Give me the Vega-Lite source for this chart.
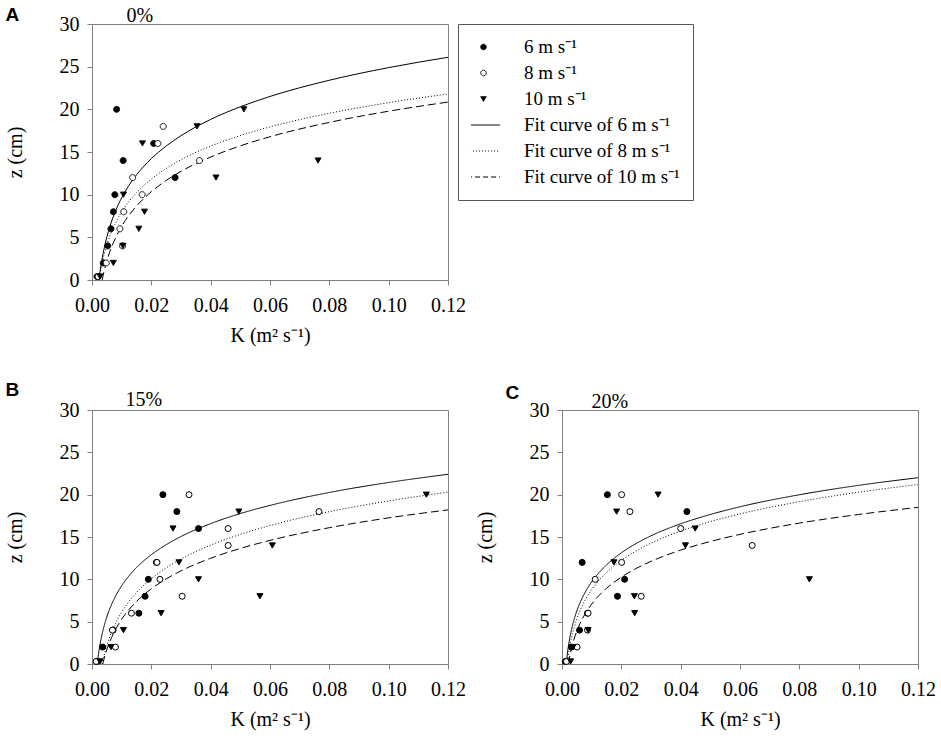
{
  "$schema": "https://vega.github.io/schema/vega-lite/v6.json",
  "padding": {"left": 4, "top": 4, "right": 5, "bottom": 5},
  "background": "white",
  "config": {
    "view": {"stroke": "#808080", "strokeWidth": 1},
    "axis": {
      "grid": false,
      "domainColor": "#808080",
      "tickColor": "#808080",
      "tickSize": 5,
      "labelFont": "Liberation Serif",
      "labelFontSize": 20,
      "labelColor": "black",
      "titleFont": "Liberation Serif",
      "titleFontSize": 20,
      "titleFontWeight": "normal",
      "titleColor": "black"
    }
  },
  "datasets": {
    "pts": [
      {"panel": "A", "speed": "6 m s⁻¹", "K": 0.0083, "z": 20},
      {"panel": "A", "speed": "6 m s⁻¹", "K": 0.0105, "z": 14},
      {"panel": "A", "speed": "6 m s⁻¹", "K": 0.0208, "z": 16},
      {"panel": "A", "speed": "6 m s⁻¹", "K": 0.028, "z": 12},
      {"panel": "A", "speed": "6 m s⁻¹", "K": 0.0077, "z": 10},
      {"panel": "A", "speed": "6 m s⁻¹", "K": 0.0072, "z": 8},
      {"panel": "A", "speed": "6 m s⁻¹", "K": 0.0064, "z": 6},
      {"panel": "A", "speed": "6 m s⁻¹", "K": 0.0053, "z": 4},
      {"panel": "A", "speed": "6 m s⁻¹", "K": 0.0038, "z": 2},
      {"panel": "A", "speed": "6 m s⁻¹", "K": 0.0017, "z": 0.4},
      {"panel": "A", "speed": "8 m s⁻¹", "K": 0.024, "z": 18},
      {"panel": "A", "speed": "8 m s⁻¹", "K": 0.0222, "z": 16},
      {"panel": "A", "speed": "8 m s⁻¹", "K": 0.0362, "z": 14},
      {"panel": "A", "speed": "8 m s⁻¹", "K": 0.0137, "z": 12},
      {"panel": "A", "speed": "8 m s⁻¹", "K": 0.0169, "z": 10},
      {"panel": "A", "speed": "8 m s⁻¹", "K": 0.0107, "z": 8},
      {"panel": "A", "speed": "8 m s⁻¹", "K": 0.0094, "z": 6},
      {"panel": "A", "speed": "8 m s⁻¹", "K": 0.0103, "z": 4},
      {"panel": "A", "speed": "8 m s⁻¹", "K": 0.0048, "z": 2},
      {"panel": "A", "speed": "8 m s⁻¹", "K": 0.0021, "z": 0.4},
      {"panel": "A", "speed": "10 m s⁻¹", "K": 0.0512, "z": 20},
      {"panel": "A", "speed": "10 m s⁻¹", "K": 0.0354, "z": 18},
      {"panel": "A", "speed": "10 m s⁻¹", "K": 0.017, "z": 16},
      {"panel": "A", "speed": "10 m s⁻¹", "K": 0.0762, "z": 14},
      {"panel": "A", "speed": "10 m s⁻¹", "K": 0.0418, "z": 12},
      {"panel": "A", "speed": "10 m s⁻¹", "K": 0.0106, "z": 10},
      {"panel": "A", "speed": "10 m s⁻¹", "K": 0.0177, "z": 8},
      {"panel": "A", "speed": "10 m s⁻¹", "K": 0.0158, "z": 6},
      {"panel": "A", "speed": "10 m s⁻¹", "K": 0.0104, "z": 4},
      {"panel": "A", "speed": "10 m s⁻¹", "K": 0.0072, "z": 2},
      {"panel": "A", "speed": "10 m s⁻¹", "K": 0.0027, "z": 0.4},
      {"panel": "B", "speed": "6 m s⁻¹", "K": 0.0239, "z": 20},
      {"panel": "B", "speed": "6 m s⁻¹", "K": 0.0286, "z": 18},
      {"panel": "B", "speed": "6 m s⁻¹", "K": 0.0359, "z": 16},
      {"panel": "B", "speed": "6 m s⁻¹", "K": 0.0217, "z": 12},
      {"panel": "B", "speed": "6 m s⁻¹", "K": 0.019, "z": 10},
      {"panel": "B", "speed": "6 m s⁻¹", "K": 0.0179, "z": 8},
      {"panel": "B", "speed": "6 m s⁻¹", "K": 0.0158, "z": 6},
      {"panel": "B", "speed": "6 m s⁻¹", "K": 0.0071, "z": 4},
      {"panel": "B", "speed": "6 m s⁻¹", "K": 0.0036, "z": 2},
      {"panel": "B", "speed": "6 m s⁻¹", "K": 0.0016, "z": 0.3},
      {"panel": "B", "speed": "8 m s⁻¹", "K": 0.0327, "z": 20},
      {"panel": "B", "speed": "8 m s⁻¹", "K": 0.0765, "z": 18},
      {"panel": "B", "speed": "8 m s⁻¹", "K": 0.0459, "z": 16},
      {"panel": "B", "speed": "8 m s⁻¹", "K": 0.0459, "z": 14},
      {"panel": "B", "speed": "8 m s⁻¹", "K": 0.0219, "z": 12},
      {"panel": "B", "speed": "8 m s⁻¹", "K": 0.0229, "z": 10},
      {"panel": "B", "speed": "8 m s⁻¹", "K": 0.0304, "z": 8},
      {"panel": "B", "speed": "8 m s⁻¹", "K": 0.0133, "z": 6},
      {"panel": "B", "speed": "8 m s⁻¹", "K": 0.0069, "z": 4},
      {"panel": "B", "speed": "8 m s⁻¹", "K": 0.0079, "z": 2},
      {"panel": "B", "speed": "8 m s⁻¹", "K": 0.0014, "z": 0.3},
      {"panel": "B", "speed": "10 m s⁻¹", "K": 0.1127, "z": 20},
      {"panel": "B", "speed": "10 m s⁻¹", "K": 0.0495, "z": 18},
      {"panel": "B", "speed": "10 m s⁻¹", "K": 0.0273, "z": 16},
      {"panel": "B", "speed": "10 m s⁻¹", "K": 0.0608, "z": 14},
      {"panel": "B", "speed": "10 m s⁻¹", "K": 0.0293, "z": 12},
      {"panel": "B", "speed": "10 m s⁻¹", "K": 0.0359, "z": 10},
      {"panel": "B", "speed": "10 m s⁻¹", "K": 0.0566, "z": 8},
      {"panel": "B", "speed": "10 m s⁻¹", "K": 0.0233, "z": 6},
      {"panel": "B", "speed": "10 m s⁻¹", "K": 0.0106, "z": 4},
      {"panel": "B", "speed": "10 m s⁻¹", "K": 0.0064, "z": 2},
      {"panel": "B", "speed": "10 m s⁻¹", "K": 0.0027, "z": 0.3},
      {"panel": "C", "speed": "6 m s⁻¹", "K": 0.0153, "z": 20},
      {"panel": "C", "speed": "6 m s⁻¹", "K": 0.0421, "z": 18},
      {"panel": "C", "speed": "6 m s⁻¹", "K": 0.0068, "z": 12},
      {"panel": "C", "speed": "6 m s⁻¹", "K": 0.0211, "z": 10},
      {"panel": "C", "speed": "6 m s⁻¹", "K": 0.0187, "z": 8},
      {"panel": "C", "speed": "6 m s⁻¹", "K": 0.0086, "z": 6},
      {"panel": "C", "speed": "6 m s⁻¹", "K": 0.0059, "z": 4},
      {"panel": "C", "speed": "6 m s⁻¹", "K": 0.0032, "z": 2},
      {"panel": "C", "speed": "6 m s⁻¹", "K": 0.0011, "z": 0.3},
      {"panel": "C", "speed": "8 m s⁻¹", "K": 0.0201, "z": 20},
      {"panel": "C", "speed": "8 m s⁻¹", "K": 0.0229, "z": 18},
      {"panel": "C", "speed": "8 m s⁻¹", "K": 0.04, "z": 16},
      {"panel": "C", "speed": "8 m s⁻¹", "K": 0.0641, "z": 14},
      {"panel": "C", "speed": "8 m s⁻¹", "K": 0.0201, "z": 12},
      {"panel": "C", "speed": "8 m s⁻¹", "K": 0.0112, "z": 10},
      {"panel": "C", "speed": "8 m s⁻¹", "K": 0.0267, "z": 8},
      {"panel": "C", "speed": "8 m s⁻¹", "K": 0.0088, "z": 6},
      {"panel": "C", "speed": "8 m s⁻¹", "K": 0.0086, "z": 4},
      {"panel": "C", "speed": "8 m s⁻¹", "K": 0.0051, "z": 2},
      {"panel": "C", "speed": "8 m s⁻¹", "K": 0.0015, "z": 0.3},
      {"panel": "C", "speed": "10 m s⁻¹", "K": 0.0324, "z": 20},
      {"panel": "C", "speed": "10 m s⁻¹", "K": 0.0184, "z": 18},
      {"panel": "C", "speed": "10 m s⁻¹", "K": 0.0449, "z": 16},
      {"panel": "C", "speed": "10 m s⁻¹", "K": 0.0416, "z": 14},
      {"panel": "C", "speed": "10 m s⁻¹", "K": 0.0175, "z": 12},
      {"panel": "C", "speed": "10 m s⁻¹", "K": 0.0834, "z": 10},
      {"panel": "C", "speed": "10 m s⁻¹", "K": 0.0244, "z": 8},
      {"panel": "C", "speed": "10 m s⁻¹", "K": 0.0245, "z": 6},
      {"panel": "C", "speed": "10 m s⁻¹", "K": 0.0088, "z": 4},
      {"panel": "C", "speed": "10 m s⁻¹", "K": 0.0037, "z": 2},
      {"panel": "C", "speed": "10 m s⁻¹", "K": 0.0029, "z": 0.3}
    ],
    "fit": [
      {"panel": "A", "curve": "Fit curve of 6 m s⁻¹", "K": 0.00234, "z": 0},
      {"panel": "A", "curve": "Fit curve of 6 m s⁻¹", "K": 0.0025, "z": 0.44},
      {"panel": "A", "curve": "Fit curve of 6 m s⁻¹", "K": 0.003, "z": 1.65},
      {"panel": "A", "curve": "Fit curve of 6 m s⁻¹", "K": 0.004, "z": 3.55},
      {"panel": "A", "curve": "Fit curve of 6 m s⁻¹", "K": 0.005, "z": 5.03},
      {"panel": "A", "curve": "Fit curve of 6 m s⁻¹", "K": 0.006, "z": 6.24},
      {"panel": "A", "curve": "Fit curve of 6 m s⁻¹", "K": 0.008, "z": 8.15},
      {"panel": "A", "curve": "Fit curve of 6 m s⁻¹", "K": 0.01, "z": 9.63},
      {"panel": "A", "curve": "Fit curve of 6 m s⁻¹", "K": 0.0125, "z": 11.11},
      {"panel": "A", "curve": "Fit curve of 6 m s⁻¹", "K": 0.015, "z": 12.32},
      {"panel": "A", "curve": "Fit curve of 6 m s⁻¹", "K": 0.02, "z": 14.22},
      {"panel": "A", "curve": "Fit curve of 6 m s⁻¹", "K": 0.025, "z": 15.7},
      {"panel": "A", "curve": "Fit curve of 6 m s⁻¹", "K": 0.03, "z": 16.91},
      {"panel": "A", "curve": "Fit curve of 6 m s⁻¹", "K": 0.04, "z": 18.82},
      {"panel": "A", "curve": "Fit curve of 6 m s⁻¹", "K": 0.05, "z": 20.3},
      {"panel": "A", "curve": "Fit curve of 6 m s⁻¹", "K": 0.06, "z": 21.51},
      {"panel": "A", "curve": "Fit curve of 6 m s⁻¹", "K": 0.08, "z": 23.41},
      {"panel": "A", "curve": "Fit curve of 6 m s⁻¹", "K": 0.1, "z": 24.89},
      {"panel": "A", "curve": "Fit curve of 6 m s⁻¹", "K": 0.12, "z": 26.1},
      {"panel": "A", "curve": "Fit curve of 8 m s⁻¹", "K": 0.00238, "z": 0},
      {"panel": "A", "curve": "Fit curve of 8 m s⁻¹", "K": 0.0025, "z": 0.27},
      {"panel": "A", "curve": "Fit curve of 8 m s⁻¹", "K": 0.003, "z": 1.29},
      {"panel": "A", "curve": "Fit curve of 8 m s⁻¹", "K": 0.004, "z": 2.88},
      {"panel": "A", "curve": "Fit curve of 8 m s⁻¹", "K": 0.005, "z": 4.13},
      {"panel": "A", "curve": "Fit curve of 8 m s⁻¹", "K": 0.006, "z": 5.14},
      {"panel": "A", "curve": "Fit curve of 8 m s⁻¹", "K": 0.008, "z": 6.74},
      {"panel": "A", "curve": "Fit curve of 8 m s⁻¹", "K": 0.01, "z": 7.98},
      {"panel": "A", "curve": "Fit curve of 8 m s⁻¹", "K": 0.0125, "z": 9.22},
      {"panel": "A", "curve": "Fit curve of 8 m s⁻¹", "K": 0.015, "z": 10.23},
      {"panel": "A", "curve": "Fit curve of 8 m s⁻¹", "K": 0.02, "z": 11.83},
      {"panel": "A", "curve": "Fit curve of 8 m s⁻¹", "K": 0.025, "z": 13.07},
      {"panel": "A", "curve": "Fit curve of 8 m s⁻¹", "K": 0.03, "z": 14.09},
      {"panel": "A", "curve": "Fit curve of 8 m s⁻¹", "K": 0.04, "z": 15.69},
      {"panel": "A", "curve": "Fit curve of 8 m s⁻¹", "K": 0.05, "z": 16.93},
      {"panel": "A", "curve": "Fit curve of 8 m s⁻¹", "K": 0.06, "z": 17.94},
      {"panel": "A", "curve": "Fit curve of 8 m s⁻¹", "K": 0.08, "z": 19.54},
      {"panel": "A", "curve": "Fit curve of 8 m s⁻¹", "K": 0.1, "z": 20.78},
      {"panel": "A", "curve": "Fit curve of 8 m s⁻¹", "K": 0.12, "z": 21.8},
      {"panel": "A", "curve": "Fit curve of 10 m s⁻¹", "K": 0.00342, "z": 0},
      {"panel": "A", "curve": "Fit curve of 10 m s⁻¹", "K": 0.004, "z": 0.92},
      {"panel": "A", "curve": "Fit curve of 10 m s⁻¹", "K": 0.005, "z": 2.23},
      {"panel": "A", "curve": "Fit curve of 10 m s⁻¹", "K": 0.006, "z": 3.3},
      {"panel": "A", "curve": "Fit curve of 10 m s⁻¹", "K": 0.008, "z": 4.98},
      {"panel": "A", "curve": "Fit curve of 10 m s⁻¹", "K": 0.01, "z": 6.29},
      {"panel": "A", "curve": "Fit curve of 10 m s⁻¹", "K": 0.0125, "z": 7.6},
      {"panel": "A", "curve": "Fit curve of 10 m s⁻¹", "K": 0.015, "z": 8.66},
      {"panel": "A", "curve": "Fit curve of 10 m s⁻¹", "K": 0.02, "z": 10.35},
      {"panel": "A", "curve": "Fit curve of 10 m s⁻¹", "K": 0.025, "z": 11.66},
      {"panel": "A", "curve": "Fit curve of 10 m s⁻¹", "K": 0.03, "z": 12.73},
      {"panel": "A", "curve": "Fit curve of 10 m s⁻¹", "K": 0.04, "z": 14.41},
      {"panel": "A", "curve": "Fit curve of 10 m s⁻¹", "K": 0.05, "z": 15.72},
      {"panel": "A", "curve": "Fit curve of 10 m s⁻¹", "K": 0.06, "z": 16.79},
      {"panel": "A", "curve": "Fit curve of 10 m s⁻¹", "K": 0.08, "z": 18.47},
      {"panel": "A", "curve": "Fit curve of 10 m s⁻¹", "K": 0.1, "z": 19.78},
      {"panel": "A", "curve": "Fit curve of 10 m s⁻¹", "K": 0.12, "z": 20.85},
      {"panel": "B", "curve": "Fit curve of 6 m s⁻¹", "K": 0.00175, "z": 0},
      {"panel": "B", "curve": "Fit curve of 6 m s⁻¹", "K": 0.002, "z": 0.71},
      {"panel": "B", "curve": "Fit curve of 6 m s⁻¹", "K": 0.0025, "z": 1.89},
      {"panel": "B", "curve": "Fit curve of 6 m s⁻¹", "K": 0.003, "z": 2.86},
      {"panel": "B", "curve": "Fit curve of 6 m s⁻¹", "K": 0.004, "z": 4.38},
      {"panel": "B", "curve": "Fit curve of 6 m s⁻¹", "K": 0.005, "z": 5.56},
      {"panel": "B", "curve": "Fit curve of 6 m s⁻¹", "K": 0.006, "z": 6.53},
      {"panel": "B", "curve": "Fit curve of 6 m s⁻¹", "K": 0.008, "z": 8.05},
      {"panel": "B", "curve": "Fit curve of 6 m s⁻¹", "K": 0.01, "z": 9.24},
      {"panel": "B", "curve": "Fit curve of 6 m s⁻¹", "K": 0.0125, "z": 10.42},
      {"panel": "B", "curve": "Fit curve of 6 m s⁻¹", "K": 0.015, "z": 11.39},
      {"panel": "B", "curve": "Fit curve of 6 m s⁻¹", "K": 0.02, "z": 12.91},
      {"panel": "B", "curve": "Fit curve of 6 m s⁻¹", "K": 0.025, "z": 14.09},
      {"panel": "B", "curve": "Fit curve of 6 m s⁻¹", "K": 0.03, "z": 15.06},
      {"panel": "B", "curve": "Fit curve of 6 m s⁻¹", "K": 0.04, "z": 16.58},
      {"panel": "B", "curve": "Fit curve of 6 m s⁻¹", "K": 0.05, "z": 17.77},
      {"panel": "B", "curve": "Fit curve of 6 m s⁻¹", "K": 0.06, "z": 18.73},
      {"panel": "B", "curve": "Fit curve of 6 m s⁻¹", "K": 0.08, "z": 20.26},
      {"panel": "B", "curve": "Fit curve of 6 m s⁻¹", "K": 0.1, "z": 21.44},
      {"panel": "B", "curve": "Fit curve of 6 m s⁻¹", "K": 0.12, "z": 22.41},
      {"panel": "B", "curve": "Fit curve of 8 m s⁻¹", "K": 0.00341, "z": 0},
      {"panel": "B", "curve": "Fit curve of 8 m s⁻¹", "K": 0.004, "z": 0.91},
      {"panel": "B", "curve": "Fit curve of 8 m s⁻¹", "K": 0.005, "z": 2.18},
      {"panel": "B", "curve": "Fit curve of 8 m s⁻¹", "K": 0.006, "z": 3.22},
      {"panel": "B", "curve": "Fit curve of 8 m s⁻¹", "K": 0.008, "z": 4.86},
      {"panel": "B", "curve": "Fit curve of 8 m s⁻¹", "K": 0.01, "z": 6.13},
      {"panel": "B", "curve": "Fit curve of 8 m s⁻¹", "K": 0.0125, "z": 7.41},
      {"panel": "B", "curve": "Fit curve of 8 m s⁻¹", "K": 0.015, "z": 8.44},
      {"panel": "B", "curve": "Fit curve of 8 m s⁻¹", "K": 0.02, "z": 10.08},
      {"panel": "B", "curve": "Fit curve of 8 m s⁻¹", "K": 0.025, "z": 11.36},
      {"panel": "B", "curve": "Fit curve of 8 m s⁻¹", "K": 0.03, "z": 12.4},
      {"panel": "B", "curve": "Fit curve of 8 m s⁻¹", "K": 0.04, "z": 14.04},
      {"panel": "B", "curve": "Fit curve of 8 m s⁻¹", "K": 0.05, "z": 15.31},
      {"panel": "B", "curve": "Fit curve of 8 m s⁻¹", "K": 0.06, "z": 16.35},
      {"panel": "B", "curve": "Fit curve of 8 m s⁻¹", "K": 0.08, "z": 17.99},
      {"panel": "B", "curve": "Fit curve of 8 m s⁻¹", "K": 0.1, "z": 19.26},
      {"panel": "B", "curve": "Fit curve of 8 m s⁻¹", "K": 0.12, "z": 20.3},
      {"panel": "B", "curve": "Fit curve of 10 m s⁻¹", "K": 0.00362, "z": 0},
      {"panel": "B", "curve": "Fit curve of 10 m s⁻¹", "K": 0.004, "z": 0.52},
      {"panel": "B", "curve": "Fit curve of 10 m s⁻¹", "K": 0.005, "z": 1.68},
      {"panel": "B", "curve": "Fit curve of 10 m s⁻¹", "K": 0.006, "z": 2.63},
      {"panel": "B", "curve": "Fit curve of 10 m s⁻¹", "K": 0.008, "z": 4.12},
      {"panel": "B", "curve": "Fit curve of 10 m s⁻¹", "K": 0.01, "z": 5.28},
      {"panel": "B", "curve": "Fit curve of 10 m s⁻¹", "K": 0.0125, "z": 6.44},
      {"panel": "B", "curve": "Fit curve of 10 m s⁻¹", "K": 0.015, "z": 7.39},
      {"panel": "B", "curve": "Fit curve of 10 m s⁻¹", "K": 0.02, "z": 8.89},
      {"panel": "B", "curve": "Fit curve of 10 m s⁻¹", "K": 0.025, "z": 10.05},
      {"panel": "B", "curve": "Fit curve of 10 m s⁻¹", "K": 0.03, "z": 11.0},
      {"panel": "B", "curve": "Fit curve of 10 m s⁻¹", "K": 0.04, "z": 12.49},
      {"panel": "B", "curve": "Fit curve of 10 m s⁻¹", "K": 0.05, "z": 13.65},
      {"panel": "B", "curve": "Fit curve of 10 m s⁻¹", "K": 0.06, "z": 14.6},
      {"panel": "B", "curve": "Fit curve of 10 m s⁻¹", "K": 0.08, "z": 16.1},
      {"panel": "B", "curve": "Fit curve of 10 m s⁻¹", "K": 0.1, "z": 17.26},
      {"panel": "B", "curve": "Fit curve of 10 m s⁻¹", "K": 0.12, "z": 18.2},
      {"panel": "C", "curve": "Fit curve of 6 m s⁻¹", "K": 0.00141, "z": 0},
      {"panel": "C", "curve": "Fit curve of 6 m s⁻¹", "K": 0.002, "z": 1.73},
      {"panel": "C", "curve": "Fit curve of 6 m s⁻¹", "K": 0.0025, "z": 2.84},
      {"panel": "C", "curve": "Fit curve of 6 m s⁻¹", "K": 0.003, "z": 3.74},
      {"panel": "C", "curve": "Fit curve of 6 m s⁻¹", "K": 0.004, "z": 5.16},
      {"panel": "C", "curve": "Fit curve of 6 m s⁻¹", "K": 0.005, "z": 6.27},
      {"panel": "C", "curve": "Fit curve of 6 m s⁻¹", "K": 0.006, "z": 7.17},
      {"panel": "C", "curve": "Fit curve of 6 m s⁻¹", "K": 0.008, "z": 8.59},
      {"panel": "C", "curve": "Fit curve of 6 m s⁻¹", "K": 0.01, "z": 9.7},
      {"panel": "C", "curve": "Fit curve of 6 m s⁻¹", "K": 0.0125, "z": 10.8},
      {"panel": "C", "curve": "Fit curve of 6 m s⁻¹", "K": 0.015, "z": 11.7},
      {"panel": "C", "curve": "Fit curve of 6 m s⁻¹", "K": 0.02, "z": 13.13},
      {"panel": "C", "curve": "Fit curve of 6 m s⁻¹", "K": 0.025, "z": 14.23},
      {"panel": "C", "curve": "Fit curve of 6 m s⁻¹", "K": 0.03, "z": 15.14},
      {"panel": "C", "curve": "Fit curve of 6 m s⁻¹", "K": 0.04, "z": 16.56},
      {"panel": "C", "curve": "Fit curve of 6 m s⁻¹", "K": 0.05, "z": 17.66},
      {"panel": "C", "curve": "Fit curve of 6 m s⁻¹", "K": 0.06, "z": 18.57},
      {"panel": "C", "curve": "Fit curve of 6 m s⁻¹", "K": 0.08, "z": 19.99},
      {"panel": "C", "curve": "Fit curve of 6 m s⁻¹", "K": 0.1, "z": 21.1},
      {"panel": "C", "curve": "Fit curve of 6 m s⁻¹", "K": 0.12, "z": 22.0},
      {"panel": "C", "curve": "Fit curve of 8 m s⁻¹", "K": 0.00173, "z": 0},
      {"panel": "C", "curve": "Fit curve of 8 m s⁻¹", "K": 0.002, "z": 0.73},
      {"panel": "C", "curve": "Fit curve of 8 m s⁻¹", "K": 0.0025, "z": 1.84},
      {"panel": "C", "curve": "Fit curve of 8 m s⁻¹", "K": 0.003, "z": 2.75},
      {"panel": "C", "curve": "Fit curve of 8 m s⁻¹", "K": 0.004, "z": 4.19},
      {"panel": "C", "curve": "Fit curve of 8 m s⁻¹", "K": 0.005, "z": 5.31},
      {"panel": "C", "curve": "Fit curve of 8 m s⁻¹", "K": 0.006, "z": 6.22},
      {"panel": "C", "curve": "Fit curve of 8 m s⁻¹", "K": 0.008, "z": 7.66},
      {"panel": "C", "curve": "Fit curve of 8 m s⁻¹", "K": 0.01, "z": 8.77},
      {"panel": "C", "curve": "Fit curve of 8 m s⁻¹", "K": 0.0125, "z": 9.89},
      {"panel": "C", "curve": "Fit curve of 8 m s⁻¹", "K": 0.015, "z": 10.8},
      {"panel": "C", "curve": "Fit curve of 8 m s⁻¹", "K": 0.02, "z": 12.24},
      {"panel": "C", "curve": "Fit curve of 8 m s⁻¹", "K": 0.025, "z": 13.35},
      {"panel": "C", "curve": "Fit curve of 8 m s⁻¹", "K": 0.03, "z": 14.27},
      {"panel": "C", "curve": "Fit curve of 8 m s⁻¹", "K": 0.04, "z": 15.7},
      {"panel": "C", "curve": "Fit curve of 8 m s⁻¹", "K": 0.05, "z": 16.82},
      {"panel": "C", "curve": "Fit curve of 8 m s⁻¹", "K": 0.06, "z": 17.73},
      {"panel": "C", "curve": "Fit curve of 8 m s⁻¹", "K": 0.08, "z": 19.17},
      {"panel": "C", "curve": "Fit curve of 8 m s⁻¹", "K": 0.1, "z": 20.29},
      {"panel": "C", "curve": "Fit curve of 8 m s⁻¹", "K": 0.12, "z": 21.2},
      {"panel": "C", "curve": "Fit curve of 10 m s⁻¹", "K": 0.00215, "z": 0},
      {"panel": "C", "curve": "Fit curve of 10 m s⁻¹", "K": 0.0025, "z": 0.69},
      {"panel": "C", "curve": "Fit curve of 10 m s⁻¹", "K": 0.003, "z": 1.53},
      {"panel": "C", "curve": "Fit curve of 10 m s⁻¹", "K": 0.004, "z": 2.86},
      {"panel": "C", "curve": "Fit curve of 10 m s⁻¹", "K": 0.005, "z": 3.88},
      {"panel": "C", "curve": "Fit curve of 10 m s⁻¹", "K": 0.006, "z": 4.72},
      {"panel": "C", "curve": "Fit curve of 10 m s⁻¹", "K": 0.008, "z": 6.04},
      {"panel": "C", "curve": "Fit curve of 10 m s⁻¹", "K": 0.01, "z": 7.07},
      {"panel": "C", "curve": "Fit curve of 10 m s⁻¹", "K": 0.0125, "z": 8.1},
      {"panel": "C", "curve": "Fit curve of 10 m s⁻¹", "K": 0.015, "z": 8.94},
      {"panel": "C", "curve": "Fit curve of 10 m s⁻¹", "K": 0.02, "z": 10.26},
      {"panel": "C", "curve": "Fit curve of 10 m s⁻¹", "K": 0.025, "z": 11.29},
      {"panel": "C", "curve": "Fit curve of 10 m s⁻¹", "K": 0.03, "z": 12.12},
      {"panel": "C", "curve": "Fit curve of 10 m s⁻¹", "K": 0.04, "z": 13.45},
      {"panel": "C", "curve": "Fit curve of 10 m s⁻¹", "K": 0.05, "z": 14.47},
      {"panel": "C", "curve": "Fit curve of 10 m s⁻¹", "K": 0.06, "z": 15.31},
      {"panel": "C", "curve": "Fit curve of 10 m s⁻¹", "K": 0.08, "z": 16.64},
      {"panel": "C", "curve": "Fit curve of 10 m s⁻¹", "K": 0.1, "z": 17.66},
      {"panel": "C", "curve": "Fit curve of 10 m s⁻¹", "K": 0.12, "z": 18.5}
    ]
  },
  "bounds": "flush",
  "spacing": 130,
  "resolve": {
    "scale": {"shape": "independent", "fill": "independent", "strokeDash": "independent"},
    "legend": {"shape": "independent", "fill": "independent", "strokeDash": "independent"}
  },
  "vconcat": [
    {
      "width": 356,
      "height": 256,
      "resolve": {"axis": {"x": "independent", "y": "independent"}},
      "layer": [
        {
          "data": {"name": "fit"},
          "transform": [{"filter": "datum.panel == 'A' && datum.curve == 'Fit curve of 6 m s⁻¹'"}],
          "mark": {"type": "line", "stroke": "black", "strokeWidth": 1, "interpolate": "monotone"},
          "encoding": {
            "x": {"field": "K", "type": "quantitative", "scale": {"domain": [0, 0.12], "nice": false},
              "axis": {"values": [0, 0.02, 0.04, 0.06, 0.08, 0.1, 0.12], "format": ".2f", "labelFlush": false, "labelOverlap": false, "labelPadding": 10, "labelFont": "Liberation Serif", "labelFontSize": 20, "title": "K (m² s⁻¹)", "titlePadding": 10}},
            "y": {"field": "z", "type": "quantitative", "scale": {"domain": [0, 30], "nice": false},
              "axis": {"values": [0, 5, 10, 15, 20, 25, 30], "labelPadding": 8, "labelFont": "Liberation Serif", "labelFontSize": 20, "title": "z (cm)", "titlePadding": 34}}
          }
        },
        {
          "data": {"name": "fit"},
          "transform": [{"filter": "datum.panel == 'A' && datum.curve == 'Fit curve of 8 m s⁻¹'"}],
          "mark": {"type": "line", "stroke": "black", "strokeWidth": 1, "strokeDash": [1, 2], "interpolate": "monotone"},
          "encoding": {
            "x": {"field": "K", "type": "quantitative", "axis": null},
            "y": {"field": "z", "type": "quantitative", "axis": null}
          }
        },
        {
          "data": {"name": "fit"},
          "transform": [{"filter": "datum.panel == 'A' && datum.curve == 'Fit curve of 10 m s⁻¹'"}],
          "mark": {"type": "line", "stroke": "black", "strokeWidth": 1, "strokeDash": [8, 4], "interpolate": "monotone"},
          "encoding": {
            "x": {"field": "K", "type": "quantitative", "axis": null},
            "y": {"field": "z", "type": "quantitative", "axis": null}
          }
        },
        {
          "data": {"name": "pts"},
          "transform": [{"filter": "datum.panel == 'A'"}],
          "mark": {"type": "point", "stroke": "black", "strokeWidth": 1, "opacity": 1, "fillOpacity": 1, "size": 36},
          "encoding": {
            "x": {"field": "K", "type": "quantitative",
              "axis": {"orient": "top", "domain": false, "ticks": false, "labels": false, "title": "0%", "titleX": 34, "titleY": -3, "titleAngle": 0, "titleAlign": "left", "titleBaseline": "alphabetic"}},
            "y": {"field": "z", "type": "quantitative",
              "axis": {"orient": "right", "domain": false, "ticks": false, "labels": false, "title": "A", "titleX": -443, "titleY": -4, "titleAngle": 0, "titleAlign": "left", "titleBaseline": "alphabetic", "titleFont": "Liberation Sans", "titleFontWeight": "bold", "titleFontSize": 19}},
            "shape": {"field": "speed", "type": "nominal",
              "scale": {"domain": ["6 m s⁻¹", "8 m s⁻¹", "10 m s⁻¹", "Fit curve of 6 m s⁻¹", "Fit curve of 8 m s⁻¹", "Fit curve of 10 m s⁻¹"], "range": ["circle", "circle", "triangle-down", "M-6,0H6", "M-6,0H6", "M-6,0H6"]},
              "legend": {
                "orient": "none", "legendX": 366, "legendY": 0, "title": null,
                "strokeColor": "#555", "padding": 13, "rowPadding": 6, "clipHeight": 20,
                "labelFont": "Liberation Serif", "labelFontSize": 19, "labelColor": "black", "labelOffset": 31, "labelLimit": 300,
                "symbolSize": 30, "symbolOffset": 3, "symbolStrokeWidth": 1, "symbolStrokeColor": "black", "symbolFillColor": "black"
              }},
            "fill": {"field": "speed", "type": "nominal",
              "scale": {"domain": ["6 m s⁻¹", "8 m s⁻¹", "10 m s⁻¹", "Fit curve of 6 m s⁻¹", "Fit curve of 8 m s⁻¹", "Fit curve of 10 m s⁻¹"], "range": ["black", "white", "black", "white", "white", "white"]},
              "legend": {
                "orient": "none", "legendX": 366, "legendY": 0, "title": null,
                "strokeColor": "#555", "padding": 13, "rowPadding": 6, "clipHeight": 20,
                "labelFont": "Liberation Serif", "labelFontSize": 19, "labelColor": "black", "labelOffset": 31, "labelLimit": 300,
                "symbolSize": 30, "symbolOffset": 3, "symbolStrokeWidth": 1, "symbolStrokeColor": "black", "symbolFillColor": "black"
              }},
            "strokeDash": {"field": "speed", "type": "nominal",
              "scale": {"domain": ["6 m s⁻¹", "8 m s⁻¹", "10 m s⁻¹", "Fit curve of 6 m s⁻¹", "Fit curve of 8 m s⁻¹", "Fit curve of 10 m s⁻¹"], "range": [[1, 0], [1, 0], [1, 0], [1, 0], [1, 2], [5, 3]]},
              "legend": {
                "orient": "none", "legendX": 366, "legendY": 0, "title": null,
                "strokeColor": "#555", "padding": 13, "rowPadding": 6, "clipHeight": 20,
                "labelFont": "Liberation Serif", "labelFontSize": 19, "labelColor": "black", "labelOffset": 31, "labelLimit": 300,
                "symbolSize": 30, "symbolOffset": 3, "symbolStrokeWidth": 1, "symbolStrokeColor": "black", "symbolFillColor": "black"
              }}
          }
        }
      ]
    },
    {
      "bounds": "flush",
      "spacing": 114,
      "hconcat": [
        {
          "width": 356,
          "height": 254,
          "resolve": {"axis": {"x": "independent", "y": "independent"}},
          "layer": [
            {
              "data": {"name": "fit"},
              "transform": [{"filter": "datum.panel == 'B'"}],
              "mark": {"type": "line", "stroke": "black", "strokeWidth": 1, "interpolate": "monotone"},
              "encoding": {
                "x": {"field": "K", "type": "quantitative", "scale": {"domain": [0, 0.12], "nice": false},
                  "axis": {"values": [0, 0.02, 0.04, 0.06, 0.08, 0.1, 0.12], "format": ".2f", "labelFlush": false, "labelOverlap": false, "labelPadding": 10, "labelFont": "Liberation Serif", "labelFontSize": 20, "title": "K (m² s⁻¹)", "titlePadding": 10}},
                "y": {"field": "z", "type": "quantitative", "scale": {"domain": [0, 30], "nice": false},
                  "axis": {"values": [0, 5, 10, 15, 20, 25, 30], "labelPadding": 8, "labelFont": "Liberation Serif", "labelFontSize": 20, "title": "z (cm)", "titlePadding": 34}},
                "strokeDash": {"field": "curve", "type": "nominal", "legend": null,
                  "scale": {"domain": ["Fit curve of 6 m s⁻¹", "Fit curve of 8 m s⁻¹", "Fit curve of 10 m s⁻¹"], "range": [[1, 0], [1, 2], [8, 4]]}}
              }
            },
            {
              "data": {"name": "pts"},
              "transform": [{"filter": "datum.panel == 'B'"}],
              "mark": {"type": "point", "stroke": "black", "strokeWidth": 1, "opacity": 1, "fillOpacity": 1, "size": 36},
              "encoding": {
                "x": {"field": "K", "type": "quantitative",
                  "axis": {"orient": "top", "domain": false, "ticks": false, "labels": false, "title": "15%", "titleX": 33, "titleY": -5, "titleAngle": 0, "titleAlign": "left", "titleBaseline": "alphabetic"}},
                "y": {"field": "z", "type": "quantitative",
                  "axis": {"orient": "right", "domain": false, "ticks": false, "labels": false, "title": "B", "titleX": -443, "titleY": -15, "titleAngle": 0, "titleAlign": "left", "titleBaseline": "alphabetic", "titleFont": "Liberation Sans", "titleFontWeight": "bold", "titleFontSize": 19}},
                "shape": {"field": "speed", "type": "nominal", "legend": null,
                  "scale": {"domain": ["6 m s⁻¹", "8 m s⁻¹", "10 m s⁻¹"], "range": ["circle", "circle", "triangle-down"]}},
                "fill": {"field": "speed", "type": "nominal", "legend": null,
                  "scale": {"domain": ["6 m s⁻¹", "8 m s⁻¹", "10 m s⁻¹"], "range": ["black", "white", "black"]}}
              }
            }
          ]
        },
        {
          "width": 356,
          "height": 254,
          "resolve": {"axis": {"x": "independent", "y": "independent"}},
          "layer": [
            {
              "data": {"name": "fit"},
              "transform": [{"filter": "datum.panel == 'C'"}],
              "mark": {"type": "line", "stroke": "black", "strokeWidth": 1, "interpolate": "monotone"},
              "encoding": {
                "x": {"field": "K", "type": "quantitative", "scale": {"domain": [0, 0.12], "nice": false},
                  "axis": {"values": [0, 0.02, 0.04, 0.06, 0.08, 0.1, 0.12], "format": ".2f", "labelFlush": false, "labelOverlap": false, "labelPadding": 10, "labelFont": "Liberation Serif", "labelFontSize": 20, "title": "K (m² s⁻¹)", "titlePadding": 10}},
                "y": {"field": "z", "type": "quantitative", "scale": {"domain": [0, 30], "nice": false},
                  "axis": {"values": [0, 5, 10, 15, 20, 25, 30], "labelPadding": 8, "labelFont": "Liberation Serif", "labelFontSize": 20, "title": "z (cm)", "titlePadding": 34}},
                "strokeDash": {"field": "curve", "type": "nominal", "legend": null,
                  "scale": {"domain": ["Fit curve of 6 m s⁻¹", "Fit curve of 8 m s⁻¹", "Fit curve of 10 m s⁻¹"], "range": [[1, 0], [1, 2], [8, 4]]}}
              }
            },
            {
              "data": {"name": "pts"},
              "transform": [{"filter": "datum.panel == 'C'"}],
              "mark": {"type": "point", "stroke": "black", "strokeWidth": 1, "opacity": 1, "fillOpacity": 1, "size": 36},
              "encoding": {
                "x": {"field": "K", "type": "quantitative",
                  "axis": {"orient": "top", "domain": false, "ticks": false, "labels": false, "title": "20%", "titleX": 29, "titleY": -3, "titleAngle": 0, "titleAlign": "left", "titleBaseline": "alphabetic"}},
                "y": {"field": "z", "type": "quantitative",
                  "axis": {"orient": "right", "domain": false, "ticks": false, "labels": false, "title": "C", "titleX": -413, "titleY": -12, "titleAngle": 0, "titleAlign": "left", "titleBaseline": "alphabetic", "titleFont": "Liberation Sans", "titleFontWeight": "bold", "titleFontSize": 19}},
                "shape": {"field": "speed", "type": "nominal", "legend": null,
                  "scale": {"domain": ["6 m s⁻¹", "8 m s⁻¹", "10 m s⁻¹"], "range": ["circle", "circle", "triangle-down"]}},
                "fill": {"field": "speed", "type": "nominal", "legend": null,
                  "scale": {"domain": ["6 m s⁻¹", "8 m s⁻¹", "10 m s⁻¹"], "range": ["black", "white", "black"]}}
              }
            }
          ]
        }
      ]
    }
  ]
}
